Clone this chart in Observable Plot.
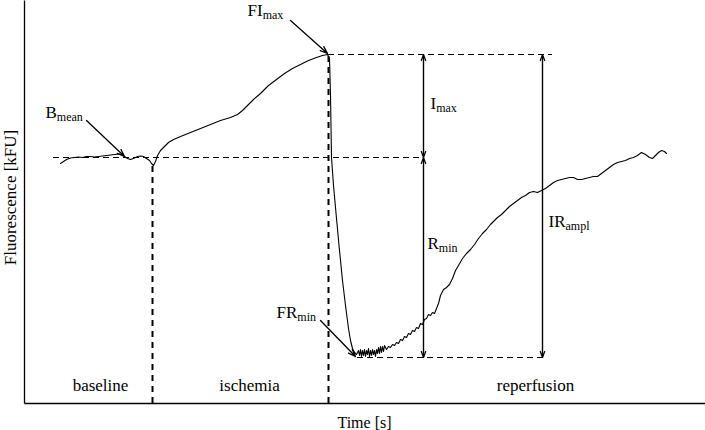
<!DOCTYPE html>
<html><head><meta charset="utf-8">
<script src="https://cdn.jsdelivr.net/npm/d3@7"></script>
<script src="https://cdn.jsdelivr.net/npm/@observablehq/plot@0.6"></script>
<style>html,body{margin:0;padding:0;background:#fff} svg{display:block}</style>
</head><body><div id="chart"></div>
<script>
// Fluorescence trace (time in s, fluorescence in arbitrary kFU units)
const baselineT = [36,39,42,46,50,54,58,62,66,70,74,78,82,86,90,94,97,100,103,106,109,113,116,119,122,125,127,129];
const baselineF = [240,242,244,245.5,246,246.5,246,247,247,246.5,247,247.5,248,248.5,249,249.5,249,247,245,244,245,247,247.5,247,245,243,240,238];
const ischemiaT = [131,133,136,140,144,149,156,166,176,186,196,206,213,218,223,229,236,244,252,260,268,276,284,292,298,303];
const ischemiaF = [242,248,253,257,261,264,267,271,275,279,283,286,289,293,298,304,310,318,324,330,335,339,343,346,348,349];
const dropT = [305,306,307,309,312,315,318,321,324,326,328,330,332];
const dropF = [345,308,246,218,185,153,123,98,75,63,55,51,49];
const minT = [334,335,336,337,338,339,340,341,342,343,344,345,346,347,348,349,350,351,352,353,354,355,356,357,358,359,360,362,364,366,368,370,372,374,376,378,380,382,384,386,388,390,392,394,396,398,400,402,404,406,408,410];
const minF = [53,48,54,47,53,48,54,47,53,49,55,47,53,48,54,49,53,47,54,50,56,50,57,51,57,52,58,54,57,56,59,58,61,60,64,63,67,66,70,69,73,72,76,75,80,79,84,85,89,88,91,90];
const riseT = [412,414,416,419,422,425,428,431,434,438,442,446,450,454,458,462,466,470,473,477,481,485,489,493,497,501,505,509,513,517,521,525,529,533,537,541,545,549,553,557,561,565,569,573,577,581,585,589,593,597,601,605,609,613,617,621,625,628,631,634,637,640,642];
const riseF = [95,100,108,114,116,119,125,133,138,145,150,154,159,165,170,174,179,183,186,189,193,197,200,203,206,208,211,212,211,213,215,218,221,223,224,225,226,226,224,224,225,226,227,227,230,233,236,239,241,242,243,245,246,248,251,249,246,245,248,251,253,252,250];

// Reference levels
const levelNames = ["Bmean", "FImax", "FRmin"];
const levelF = [246, 349, 46];
const levelFrom = [29, 304, 333];
const levelTo = [399, 528, 519];

// Phase boundaries (time)
const phaseT = [128, 304];
const phaseTop = [238, 349];

// Measured amplitudes (double arrows)
const ampNames = ["I_max", "R_min", "IR_ampl"];
const ampT = [399, 399, 518];
const ampHigh = [349, 246, 349];
const ampLow = [246, 46, 46];

// Pointer annotations
const ptrNames = ["B_mean", "FI_max", "FR_min"];
const ptrT1 = [62, 266, 296];
const ptrF1 = [283, 383, 83];
const ptrT2 = [100, 303, 331];
const ptrF2 = [247, 350, 47];
const ptrLabelT = [21, 223, 252];
const ptrLabelF = [286, 388, 86];

// Amplitude label positions
const ampLabelT = [406, 403, 524];
const ampLabelF = [295, 155, 177];

// Phase labels
const phaseNames = ["baseline", "ischemia", "reperfusion"];
const phaseLabelT = [76, 225, 511];
const phaseLabelF = [13, 13, 13];

const curve = [
  ...baselineT.map((t, i) => ({t, f: baselineF[i]})),
  ...ischemiaT.map((t, i) => ({t, f: ischemiaF[i]})),
  ...dropT.map((t, i) => ({t, f: dropF[i]})),
  ...minT.map((t, i) => ({t, f: minF[i]})),
  ...riseT.map((t, i) => ({t, f: riseF[i]}))
];
const levels = levelF.map((f, i) => ({f, t1: levelFrom[i], t2: levelTo[i]}));
const phases = phaseT.map((t, i) => ({t, f1: 0, f2: phaseTop[i]}));
const ampArrows = [];
ampT.forEach((t, i) => {
  ampArrows.push({t1: t, f1: ampLow[i], t2: t, f2: ampHigh[i]});
  ampArrows.push({t1: t, f1: ampHigh[i], t2: t, f2: ampLow[i]});
});
const ptrArrows = ptrT1.map((t, i) => ({t1: t, f1: ptrF1[i], t2: ptrT2[i], f2: ptrF2[i]}));
const labels = [
  ...ptrNames.map((n, i) => ({n, t: ptrLabelT[i], f: ptrLabelF[i]})),
  ...ampNames.map((n, i) => ({n, t: ampLabelT[i], f: ampLabelF[i]}))
];
const phaseLabels = phaseNames.map((n, i) => ({n, t: phaseLabelT[i], f: phaseLabelF[i]}));
const axisLines = [{t1: 0, f1: 0, t2: 0, f2: 403}, {t1: 0, f1: 0, t2: 681, f2: 0}];

const plot = Plot.plot({
  width: 705, height: 430,
  marginLeft: 24, marginRight: 0, marginTop: 0, marginBottom: 27,
  x: {domain: [0, 681], axis: null},
  y: {domain: [0, 403], axis: null},
  style: {fontFamily: "'Liberation Serif', 'DejaVu Serif', serif", fontSize: "17px", background: "#fff", color: "#000"},
  marks: [
    Plot.link(axisLines, {x1: "t1", y1: "f1", x2: "t2", y2: "f2", stroke: "#000", strokeWidth: 1.3}),
    Plot.ruleY(levels, {y: "f", x1: "t1", x2: "t2", stroke: "#000", strokeWidth: 1, strokeDasharray: "6,4"}),
    Plot.ruleX(phases, {x: "t", y1: "f1", y2: "f2", stroke: "#000", strokeWidth: 2, strokeDasharray: "6,5"}),
    Plot.line(curve, {x: "t", y: "f", stroke: "#000", strokeWidth: 1.1}),
    Plot.arrow(ampArrows, {x1: "t1", y1: "f1", x2: "t2", y2: "f2", stroke: "#000", strokeWidth: 1.2, headLength: 8, headAngle: 40}),
    Plot.arrow(ptrArrows, {x1: "t1", y1: "f1", x2: "t2", y2: "f2", stroke: "#000", strokeWidth: 1.3, headLength: 9, headAngle: 40}),
    Plot.text(labels, {x: "t", y: "f", text: "n", textAnchor: "start", lineAnchor: "bottom", fontSize: 17, fill: "#000"}),
    Plot.text(phaseLabels, {x: "t", y: "f", text: "n", textAnchor: "middle", lineAnchor: "bottom", fontSize: 17, fill: "#000"}),
    Plot.text([{n: "Fluorescence [kFU]", t: -9, f: 206}], {x: "t", y: "f", text: "n", rotate: -90, textAnchor: "middle", lineAnchor: "bottom", fontSize: 17, fill: "#000"}),
    Plot.text([{n: "Time [s]", t: 340, f: -24}], {x: "t", y: "f", text: "n", textAnchor: "middle", lineAnchor: "bottom", fontSize: 16, fill: "#000"})
  ]
});

// Render subscripts (text after "_")
const NS = "http://www.w3.org/2000/svg";
plot.querySelectorAll("text").forEach(el => {
  const s = el.textContent;
  if (s.includes("_")) {
    const [main, sub] = s.split("_");
    el.textContent = main;
    const ts = document.createElementNS(NS, "tspan");
    ts.setAttribute("dy", "0.28em");
    ts.setAttribute("font-size", "12");
    ts.textContent = sub;
    el.appendChild(ts);
  }
});
document.getElementById("chart").appendChild(plot);
</script>
</body></html>
